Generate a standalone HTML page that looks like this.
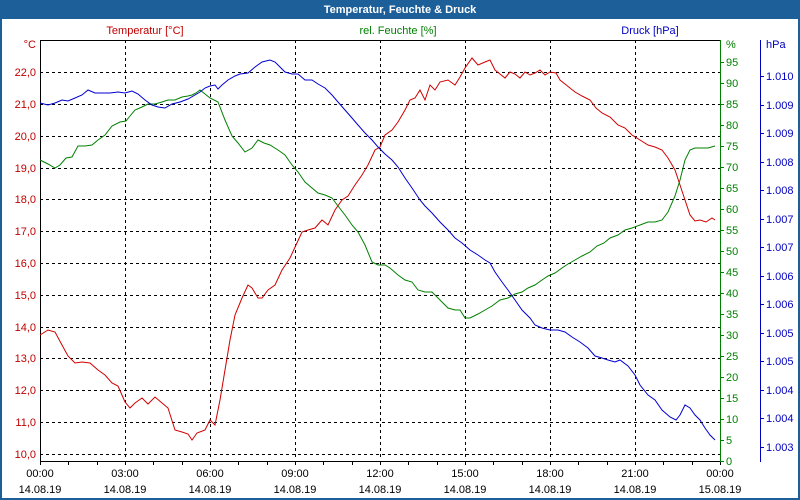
<!DOCTYPE html>
<html><head><meta charset="utf-8"><style>
html,body{margin:0;padding:0;background:#fff;}
svg{display:block;font-family:"Liberation Sans",Tahoma,sans-serif;}
</style></head><body>
<svg id="s" width="800" height="500" xmlns="http://www.w3.org/2000/svg">
<rect x="0" y="0" width="800" height="500" fill="#fff"/>
<rect x="0" y="0" width="800" height="19" fill="#1d5f98"/>
<rect x="1" y="1" width="798" height="498" fill="none" stroke="#1d5f98" stroke-width="2"/>
<text x="400" y="13" text-anchor="middle" fill="#fff" font-size="11" font-weight="bold">Temperatur, Feuchte &amp; Druck</text>
<text x="145" y="34" text-anchor="middle" fill="#c00000" font-size="11">Temperatur [°C]</text>
<text x="398" y="34" text-anchor="middle" fill="#008000" font-size="11">rel. Feuchte [%]</text>
<text x="650" y="34" text-anchor="middle" fill="#0000c0" font-size="11">Druck [hPa]</text>
<g id="g"></g>
</svg>
<script>
var g=document.getElementById('g'),h='';
function L(x1,y1,x2,y2,c,d,w){h+='<line x1="'+x1+'" y1="'+y1+'" x2="'+x2+'" y2="'+y2+'" stroke="'+c+'" stroke-width="'+(w||1)+'"'+(d?' stroke-dasharray="3,3"':'')+' shape-rendering="crispEdges"/>';}
function T(x,y,t,c,a){h+='<text x="'+x+'" y="'+y+'" fill="'+c+'" font-size="11" text-anchor="'+(a||'middle')+'">'+t+'</text>';}
// horizontal grid (temperature)
for(var k=0;k<=12;k++){var y=Math.round(72.3+31.78*k);L(40,y+0.5,720,y+0.5,'#000',1);T(36,y+4,(22-k)+',0','#c00000','end');}
T(36,48,'°C','#c00000','end');
// vertical grid
var tl=['00:00','03:00','06:00','09:00','12:00','15:00','18:00','21:00','00:00'];
for(var i=0;i<=8;i++){var x=40+85*i;if(i>0&&i<8)L(x+0.5,40,x+0.5,460,'#000',1);T(x,477,tl[i],'#000');T(x,493,i==8?'15.08.19':'14.08.19','#000');}
for(var i=0;i<=24;i++){var x=Math.round(40+28.333*i)+0.5;L(x,461,x,465,'#000');}
// frame
L(40,40.5,720,40.5,'#000');L(40.5,40,40.5,461,'#000');L(40,461.5,720,461.5,'#000');
L(720.5,40,720.5,462,'#008000');
L(760.5,40,760.5,462,'#0000c0');
// humidity axis
for(var p=0;p<=95;p+=5){var y=Math.round(460.7-4.2*p);L(720,y+0.5,724,y+0.5,'#008000');T(726,y+4,p,'#008000','start');}
T(726,48,'%','#008000','start');
var pl=['1.010','1.009','1.009','1.008','1.008','1.007','1.007','1.006','1.006','1.005','1.005','1.004','1.004','1.003'];
for(var i=0;i<14;i++){var y=Math.round(76+28.5*i);L(760,y+0.5,764,y+0.5,'#0000c0');T(766,y+4,pl[i],'#0000c0','start');}
T(766,48,'hPa','#0000c0','start');
function P(pts,c){h+='<polyline fill="none" stroke="'+c+'" stroke-width="1" points="'+pts+'"/>';}
P("40,335 48,330 55,332 62,345 68,356 75,363 82,362 90,363 98,370 105,375 112,383 118,386 125,402 130,408 135,403 142,398 148,404 155,397 162,403 168,408 175,430 182,432 188,434 192,440 197,433 205,430 210,420 215,425 220,400 225,370 230,340 235,315 242,298 248,285 252,288 258,298 262,298 268,290 275,285 282,270 290,258 296,245 302,232 308,230 315,228 322,220 328,225 335,210 342,200 348,196 355,185 362,175 368,165 375,150 380,147 385,135 392,130 398,122 405,110 410,100 415,98 420,90 425,100 430,85 435,90 440,82 448,80 455,85 460,77 465,68 472,58 478,65 485,62 490,60 495,70 500,74 505,78 510,72 515,74 520,78 525,72 530,75 535,73 540,70 545,75 550,72 556,73 560,80 565,84 570,88 575,92 582,96 590,100 596,108 602,113 610,117 618,125 625,128 632,135 640,140 648,145 655,147 662,150 668,158 675,170 680,185 685,200 690,215 695,221 700,220 706,222 712,218 715,220","#d00000");
P("40,160 48,164 55,168 60,165 66,158 72,157 78,146 85,146 92,145 98,140 105,135 112,126 120,122 126,121 130,116 135,110 142,107 148,104 155,104 162,102 168,100 175,100 182,97 188,96 192,95 196,93 200,90 205,94 210,98 218,102 225,120 232,136 238,143 245,152 252,148 258,140 264,143 270,145 278,150 285,155 292,165 298,172 305,182 312,188 318,193 325,195 332,198 338,206 345,215 352,225 358,232 365,245 372,262 378,265 385,265 390,268 398,275 405,280 412,282 418,290 425,292 432,292 440,300 448,308 455,310 460,310 465,318 470,318 478,314 485,310 492,306 500,300 508,298 515,294 522,292 528,288 535,285 542,280 548,276 555,273 562,268 568,264 575,260 582,256 590,252 597,246 604,243 610,238 618,235 625,230 632,228 640,225 648,222 655,222 662,220 668,212 675,196 680,180 685,160 690,150 695,148 702,148 708,148 715,146","#008000");
P("40,103 48,105 55,103 62,100 68,101 75,98 82,95 88,90 95,93 102,93 110,93 118,92 125,93 132,91 138,94 145,100 152,105 158,107 165,108 172,104 180,102 188,99 195,95 200,92 205,88 210,86 215,85 218,89 222,85 228,80 235,76 240,74 248,73 255,67 262,62 270,60 275,62 280,67 285,72 292,74 298,74 305,80 312,80 318,84 325,88 332,95 338,102 345,110 352,118 358,125 365,133 372,140 378,147 385,154 392,160 398,167 405,178 412,188 420,200 425,206 432,213 440,222 448,230 455,238 462,243 470,250 478,255 485,260 490,263 495,272 502,282 508,290 515,300 522,310 530,318 535,325 542,328 550,330 558,330 565,332 572,337 580,342 588,348 595,356 602,358 608,360 615,362 620,360 628,366 635,375 640,385 648,395 655,400 662,410 670,417 676,420 680,415 685,405 690,408 695,415 700,420 705,428 710,435 715,440","#0000d0");
g.innerHTML=h;
</script>
</body></html>
